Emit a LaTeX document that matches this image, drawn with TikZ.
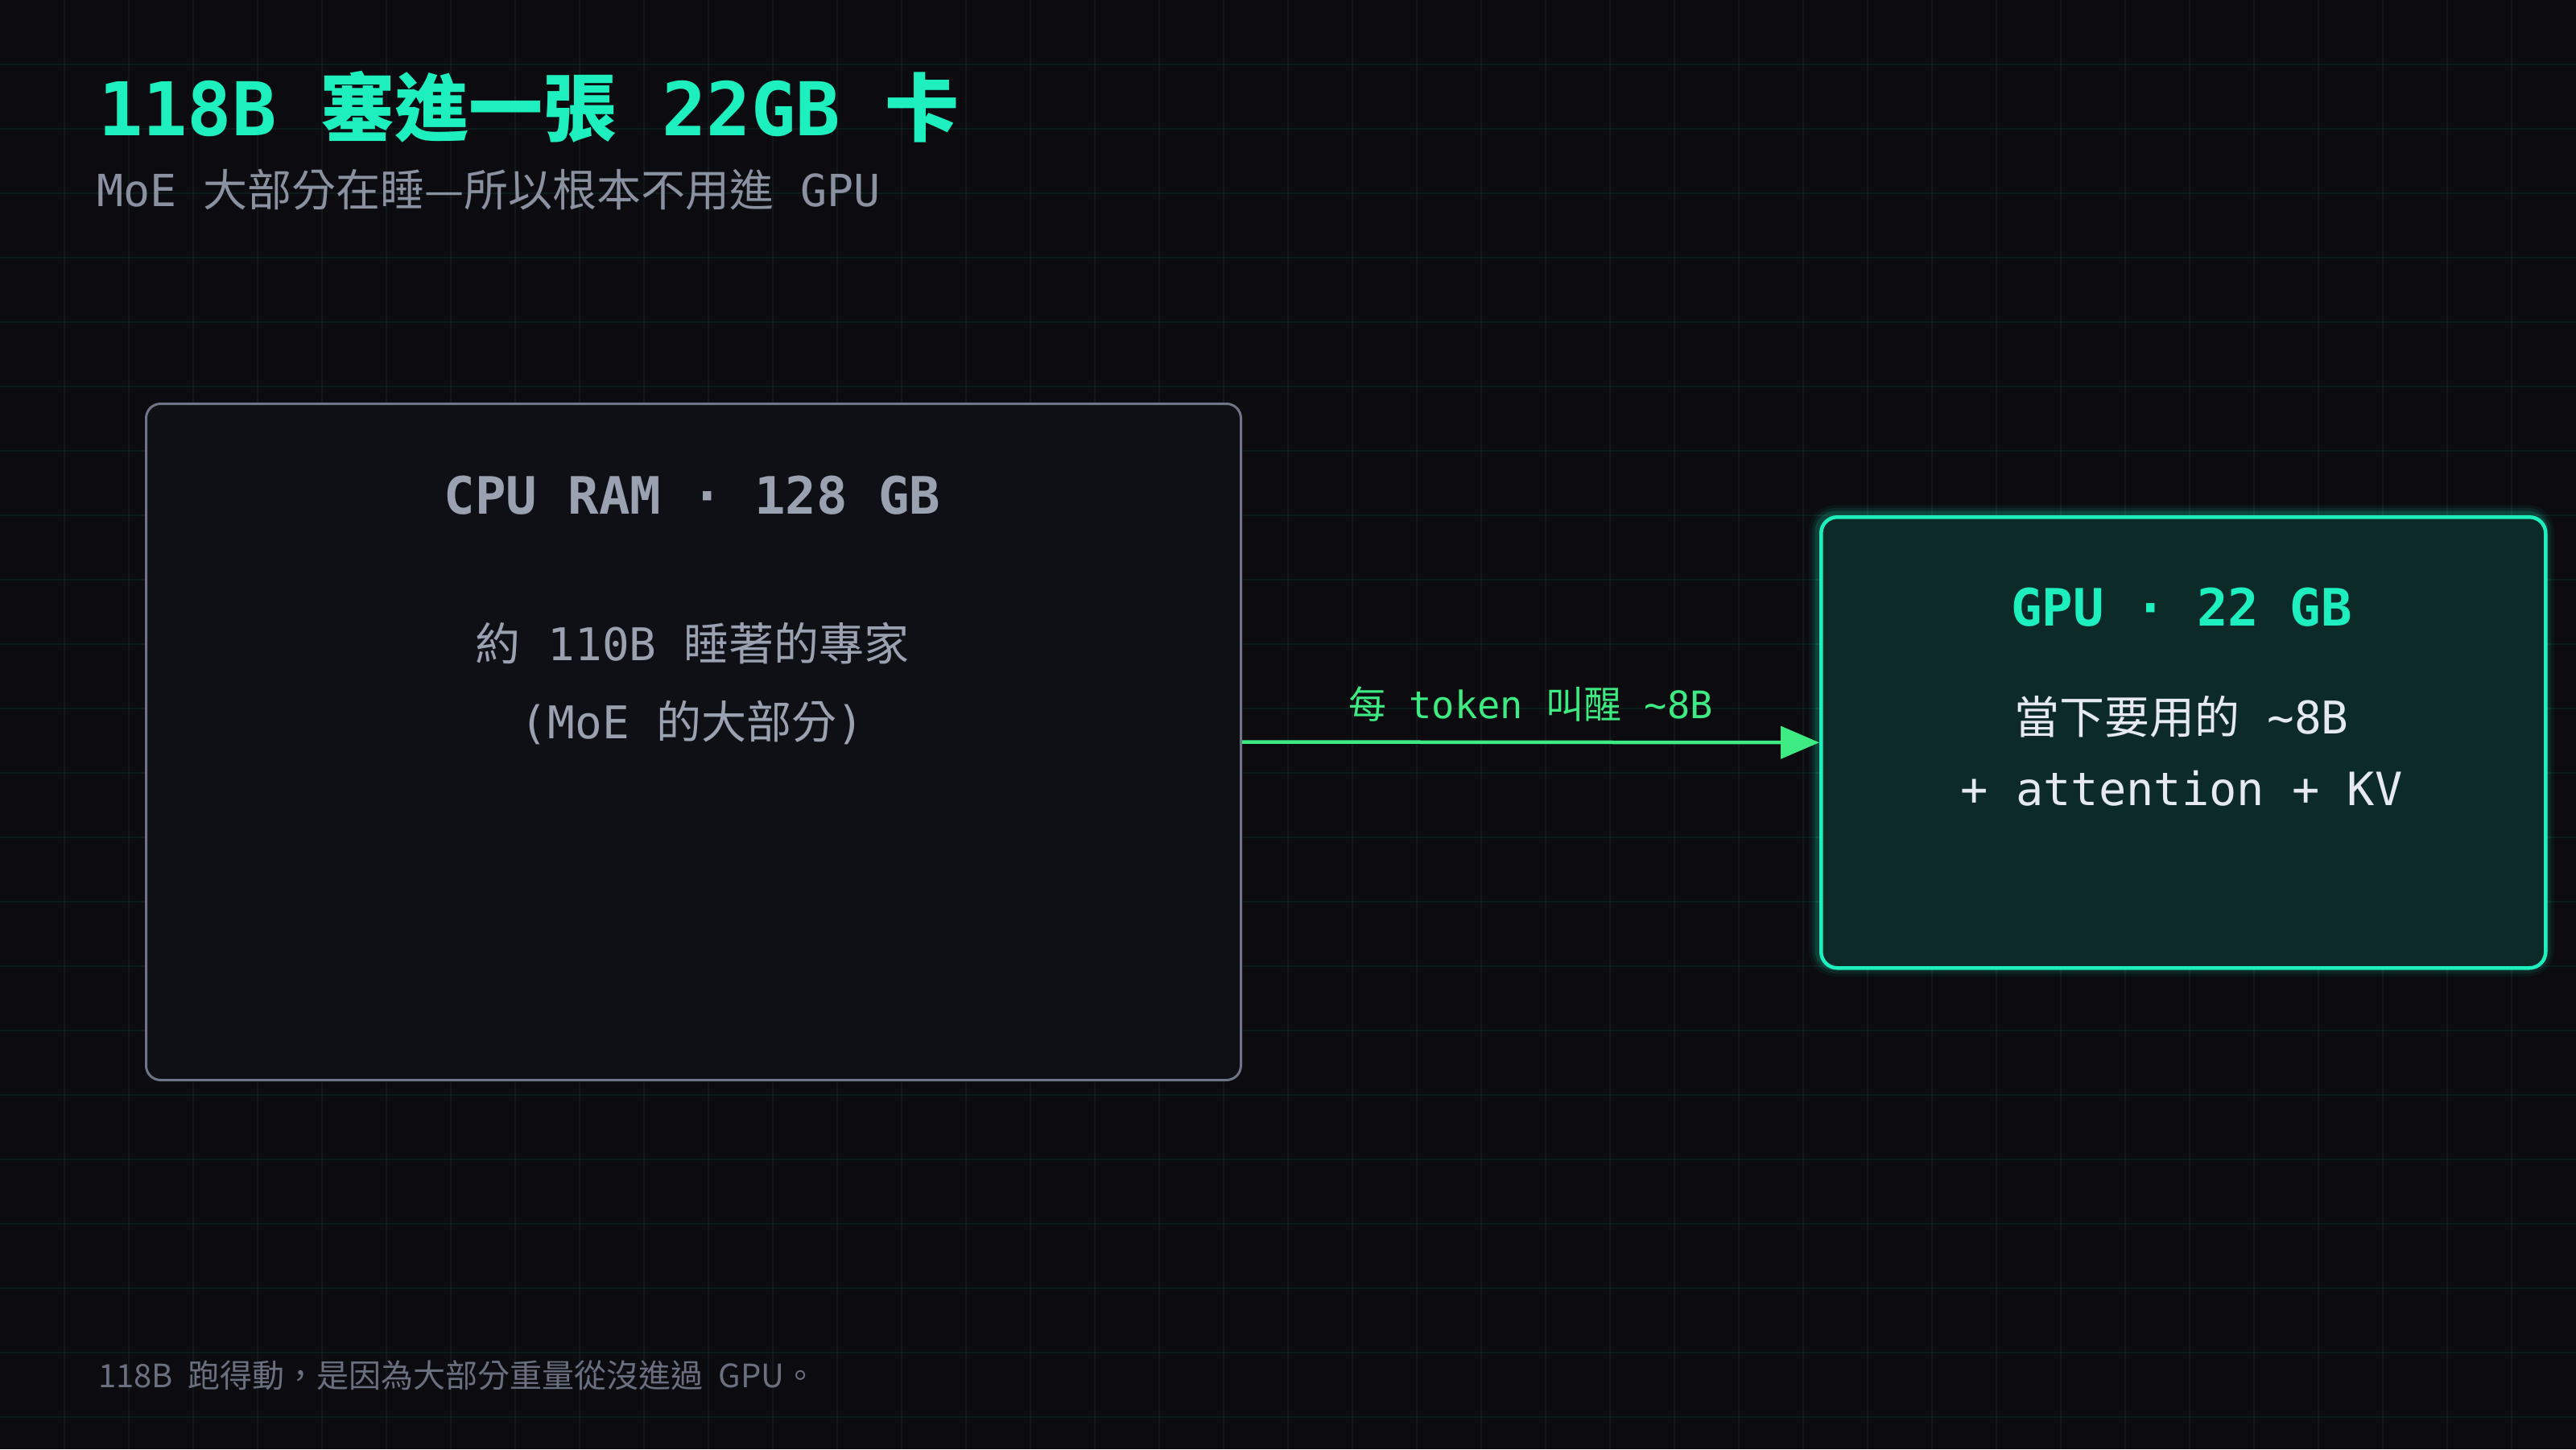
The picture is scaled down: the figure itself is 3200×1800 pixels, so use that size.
\documentclass[tikz,border=0pt]{standalone}
\usepackage{fontspec}
\setmonofont{DejaVu Sans Mono}
\newfontfamily\cjk{Noto Sans CJK TC}
\usetikzlibrary{arrows.meta}
\definecolor{bgc}{HTML}{0B0B10}
\definecolor{gridc}{HTML}{0F1A1B}
\definecolor{teal}{HTML}{1DF0BE}
\definecolor{subg}{HTML}{8A91A0}
\definecolor{cpuborder}{HTML}{6E7586}
\definecolor{cpufill}{HTML}{0F1016}
\definecolor{cputext}{HTML}{9AA2B1}
\definecolor{gpufill}{HTML}{0B2A28}
\definecolor{arrowg}{HTML}{3EEA82}
\definecolor{wtext}{HTML}{E6EAF0}
\definecolor{foot}{HTML}{6A7080}
\tikzset{
  x=1pt,y=1pt,
  txt/.style={inner sep=0pt,outer sep=0pt},
  cpubox/.style={draw=cpuborder,line width=3pt,fill=cpufill,rounded corners=18pt},
  gpubox/.style={draw=teal,line width=4.5pt,fill=gpufill,rounded corners=20pt},
  flow/.style={draw=arrowg,line width=4.5pt,-{Triangle[length=48pt,width=40pt]}}
}
\begin{document}
\begin{tikzpicture}
% background and grid (y downward via negative coordinates)
\fill[bgc] (0,0) rectangle (3200,-1800);
\useasboundingbox (0,0) rectangle (3200,-1800);
\foreach \gx in {80,160,...,3120} \draw[gridc,line width=1.5pt] (\gx,0) -- (\gx,-1800);
\foreach \gy in {80,160,...,1760} \draw[gridc,line width=1.5pt] (0,-\gy) -- (3200,-\gy);

% title
\node[txt,anchor=base west,text=teal,font=\ttfamily\bfseries\fontsize{92}{100}\selectfont] (title) at (122,-168)
  {118B {\cjk\bfseries 塞進一張} 22GB {\cjk\bfseries 卡}};
\node[txt,anchor=base west,text=subg,font=\ttfamily\fontsize{55}{60}\selectfont] (subtitle) at (120,-256)
  {MoE {\cjk 大部分在睡—所以根本不用進} GPU};

% CPU box
\node[cpubox,minimum width=1360pt,minimum height=840pt,anchor=north west,inner sep=0pt] (cpu) at (180,-500) {};
\node[txt,anchor=base,text=cputext,font=\ttfamily\bfseries\fontsize{64}{70}\selectfont] (cpuT) at (860,-638) {CPU RAM · 128 GB};
\node[txt,anchor=base,text=cputext,font=\ttfamily\fontsize{56}{60}\selectfont] (cpuL1) at (860,-820) {{\cjk 約} 110B {\cjk 睡著的專家}};
\node[txt,anchor=base,text=cputext,font=\ttfamily\fontsize{56}{60}\selectfont] (cpuL2) at (860,-917) {(MoE {\cjk 的大部分})};

% GPU box with glow
\foreach \w/\o in {26/0.05,18/0.08,11/0.14}
  \draw[teal,line width=\w pt,opacity=\o,rounded corners=20pt] (2260,-640) rectangle (3160,-1200);
\node[gpubox,minimum width=900pt,minimum height=560pt,anchor=north west,inner sep=0pt] (gpu) at (2260,-640) {};
\node[txt,anchor=base,text=teal,font=\ttfamily\bfseries\fontsize{64}{70}\selectfont] (gpuT) at (2710,-777) {GPU · 22 GB};
\node[txt,anchor=base,text=wtext,font=\ttfamily\fontsize{56}{60}\selectfont] (gpuL1) at (2710,-911) {{\cjk 當下要用的} \textasciitilde8B};
\node[txt,anchor=base,text=wtext,font=\ttfamily\fontsize{57}{60}\selectfont] (gpuL2) at (2710,-1000) {+ attention + KV};

% connector
\draw[flow] (cpu.east) -- (gpu.west)
  node[midway,above=26pt,txt,text=arrowg,font=\ttfamily\fontsize{47}{50}\selectfont] (lbl) {{\cjk 每} token {\cjk 叫醒} \textasciitilde8B};

% footer
\node[txt,anchor=base west,text=foot,font=\cjk\fontsize{40}{44}\selectfont] (footer) at (122,-1723)
  {118B\hspace{10pt} 跑得動，是因為大部分重量從沒進過\hspace{10pt} GPU。};
\end{tikzpicture}
\end{document}
